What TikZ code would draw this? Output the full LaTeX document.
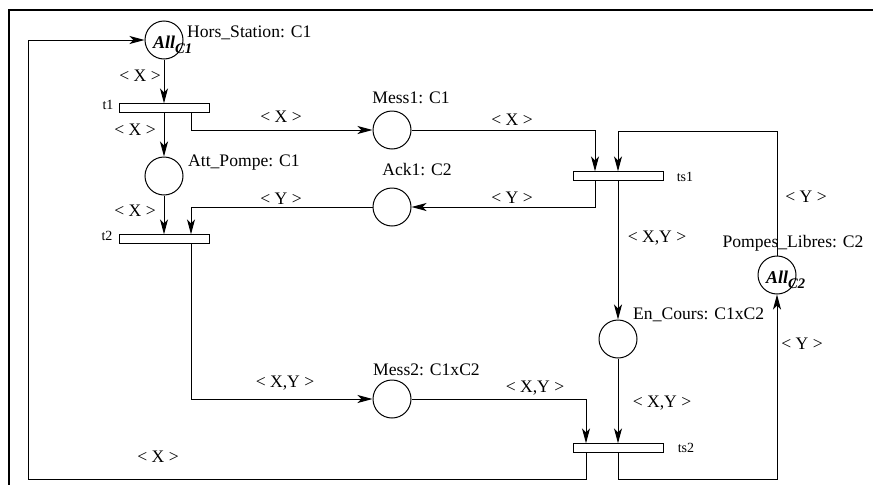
\documentclass[tikz,border=0pt]{standalone}
\usepackage{fontspec}
\setmainfont{Liberation Serif}
\usepackage{tikz}
\usetikzlibrary{arrows.meta,positioning,calc}

\begin{document}
\begin{tikzpicture}[
  x=1pt, y=-1pt,
  place/.style={circle, draw, line width=1pt, minimum size=38pt, inner sep=0pt},
  trans/.style={rectangle, draw, line width=0.9pt, minimum width=90pt, minimum height=8.5pt, inner sep=0pt},
  arc/.style={-{Stealth[length=15pt, width=8pt, inset=4pt]}, line width=0.9pt},
  lbl/.style={font=\fontsize{17.6}{20}\selectfont, inner sep=0pt},
  tlbl/.style={font=\fontsize{14}{16}\selectfont, inner sep=0pt},
  token/.style={font=\fontsize{18}{20}\selectfont\bfseries\itshape, inner sep=0pt}
]
\useasboundingbox (0,0) rectangle (873,485);

% cadre
\draw[line width=2pt] (873,10) -- (9,10) -- (9,485);

% places
\node[place] (hors) at (164,40) {};
\node[place] (attpompe) at (164,176) {};
\node[place] (mess1) at (392,130) {};
\node[place] (ack1) at (392,207) {};
\node[place] (mess2) at (392,399) {};
\node[place] (encours) at (618,339) {};
\node[place] (pompes) at (777,275) {};

% marquages initiaux
\node[token, anchor=base west] (horsall) at (153,48) {All\raisebox{-5pt}{\fontsize{14.6}{15}\selectfont C1}};
\node[token, anchor=base west] (pompesall) at (766,283) {All\raisebox{-5pt}{\fontsize{14.6}{15}\selectfont C2}};

% noms des places
\node[lbl, anchor=west] (horslbl) at (187,33) {Hors\_Station: C1};
\node[lbl, anchor=west] (attlbl) at (188,163) {Att\_Pompe: C1};
\node[lbl] (mess1lbl) at (411,98) {Mess1: C1};
\node[lbl] (ack1lbl) at (417,170) {Ack1: C2};
\node[lbl, anchor=west] (mess2lbl) at (373,370) {Mess2: C1xC2};
\node[lbl, anchor=west] (encourslbl) at (633,315) {En\_Cours: C1xC2};
\node[lbl] (pompeslbl) at (793,243) {Pompes\_Libres: C2};

% transitions
\node[trans] (t1) at (164,108) {};
\node[trans] (t2) at (164,239) {};
\node[trans] (ts1) at (618,176) {};
\node[trans] (ts2) at (618,448) {};
\node[tlbl] (t1lbl) at (108,105) {t1};
\node[tlbl] (t2lbl) at (107,236) {t2};
\node[tlbl] (ts1lbl) at (685,177) {ts1};
\node[tlbl] (ts2lbl) at (686,448) {ts2};

% coins de la boucle de retour
\coordinate (loopsw) at (28,479);
\coordinate (loopse) at (777,479);

% arcs
\draw[arc] (hors) -- (t1);
\draw[arc] (t1) -- (attpompe);
\draw[arc] ([xshift=27pt]t1.south) |- (mess1);
\draw[arc] (attpompe) -- (t2);
\draw[arc] (ack1) -| ([xshift=27pt]t2.north);
\draw[arc] (mess1) -| ([xshift=-23pt]ts1.north);
\draw[arc] ([xshift=-23pt]ts1.south) |- (ack1);
\draw[arc] (pompes) |- ([yshift=40pt]ts1.north) -- (ts1.north);
\draw[arc] (ts1) -- (encours);
\draw[arc] (encours) -- (ts2);
\draw[arc] ([xshift=27pt]t2.south) |- (mess2);
\draw[arc] (mess2) -| ([xshift=-32pt]ts2.north);
\draw[arc] ([xshift=-32pt]ts2.south) |- (loopsw) |- (hors);
\draw[arc] (ts2.south) |- (loopse) -- (pompes);

% inscriptions des arcs
\node[lbl] (a1) at (140,76) {< X >};
\node[lbl] (a2) at (135,130) {< X >};
\node[lbl] (a3) at (135,211) {< X >};
\node[lbl] (a4) at (281,117) {< X >};
\node[lbl] (a5) at (281,199) {< Y >};
\node[lbl] (a6) at (512,120) {< X >};
\node[lbl] (a7) at (512,198) {< Y >};
\node[lbl] (a8) at (657,238) {< X,Y >};
\node[lbl] (a9) at (806,197) {< Y >};
\node[lbl] (a10) at (662,403) {< X,Y >};
\node[lbl] (a11) at (285,383) {< X,Y >};
\node[lbl] (a12) at (535,388) {< X,Y >};
\node[lbl] (a13) at (802,344) {< Y >};
\node[lbl] (a14) at (158,457) {< X >};

\end{tikzpicture}
\end{document}
